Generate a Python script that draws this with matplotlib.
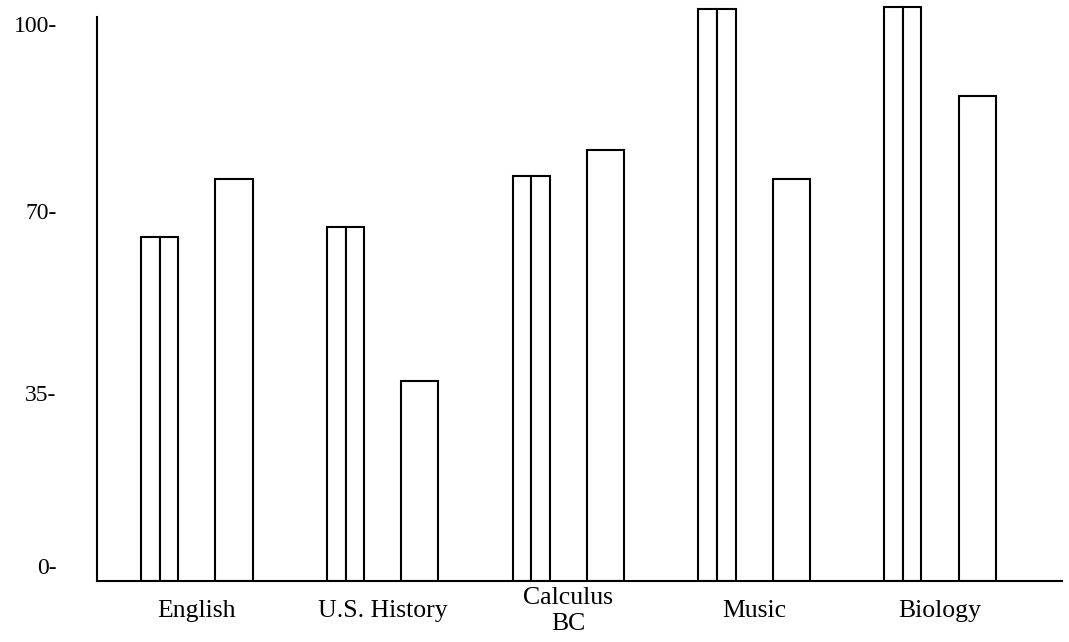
import numpy as np
import matplotlib
matplotlib.use("Agg")
import matplotlib.pyplot as plt

# subjects along the bottom
subjects = ["English", "U.S. History", "Calculus\nBC", "Music", "Biology"]

# each subject has a pair of narrow bars and one wide bar
pair_left = [66.2, 68.1, 77.9, 110.0, 110.4]
pair_right = [66.2, 68.1, 77.9, 110.0, 110.4]
single = [77.3, 38.5, 82.9, 77.3, 93.3]

# y-axis labels (drawn with the trailing dash as in the original)
ytick_vals = [2.9, 36.2, 71.2, 107.1]
ytick_text = ["0-", "35-", "70-", "100-"]

plt.rcParams["font.family"] = ["Liberation Serif", "DejaVu Serif"]

fig = plt.figure(figsize=(10.69, 6.42), dpi=100)
ax = fig.add_axes([0.0907, 0.095, 0.9028, 0.897])

x = np.arange(len(subjects))
narrow = 0.1
wide = 0.2
style = dict(color="white", edgecolor="black", linewidth=1.5)

ax.bar(x - 0.25, pair_left, width=narrow, **style)
ax.bar(x - 0.15, pair_right, width=narrow, **style)
ax.bar(x + 0.2, single, width=wide, **style)

ax.set_xlim(-0.538, 4.657)
ax.set_ylim(0, 110.8)

for s in ["top", "right"]:
    ax.spines[s].set_visible(False)
ax.spines["left"].set_bounds(0, 108.5)
ax.spines["left"].set_linewidth(1.5)
ax.spines["bottom"].set_linewidth(1.5)

ax.set_xticks(x)
ax.set_xticklabels(subjects, fontsize=18.5, linespacing=1.2)
for lbl in ax.get_xticklabels():
    lbl.set_verticalalignment("center")
ax.set_yticks(ytick_vals)
ax.set_yticklabels(ytick_text, fontsize=17)
ax.tick_params(axis="x", length=0, pad=21.5)
ax.tick_params(axis="y", length=0, pad=29)

fig.savefig("out.png", dpi=100, facecolor="white")
